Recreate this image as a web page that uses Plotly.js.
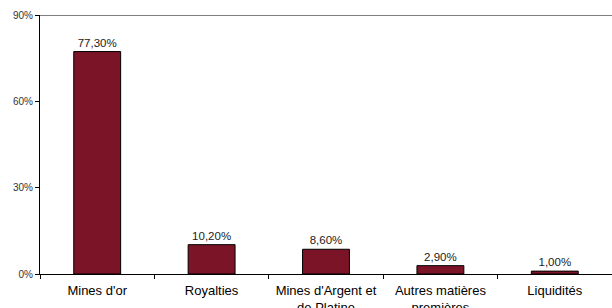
<!DOCTYPE html>
<html>
<head>
<meta charset="utf-8">
<script src="https://cdn.plot.ly/plotly-3.0.1.min.js"></script>
<style>
html,body{margin:0;padding:0;overflow:hidden;background:#fff;}
#chart{width:612px;height:308px;}
</style>
</head>
<body>
<div id="chart"></div>
<script>
const categories = ["Mines d'or", "Royalties", "Mines d'Argent et<br>de Platine", "Autres matières<br>premières", "Liquidités"];
const values = [77.3, 10.2, 8.6, 2.9, 1.0];
const yTickVals = [0, 30, 60, 90];
const yTickText = ["0%", "30%", "60%", "90%"];

const trace = {
  type: 'bar',
  x: categories,
  y: values,
  marker: {color: '#7B1426', line: {color: '#000', width: 1}},
  text: values.map(v => v.toFixed(2).replace('.', ',') + '%'),
  textposition: 'outside',
  textfont: {family: 'Liberation Sans, Arial, sans-serif', size: 11.5, color: '#222'},
  cliponaxis: false,
  hoverinfo: 'none'
};

const layout = {
  width: 612, height: 308,
  margin: {l: 40, r: 0, t: 15, b: 34},
  paper_bgcolor: '#fff', plot_bgcolor: '#fff',
  showlegend: false,
  bargap: 0.59,
  font: {family: 'Liberation Sans, Arial, sans-serif'},
  xaxis: {
    showline: true, linecolor: '#000', linewidth: 1,
    ticks: 'outside', tickson: 'boundaries', ticklen: 4, tickcolor: '#000',
    tickfont: {size: 13, color: '#000'},
    ticklabelstandoff: 4,
    showgrid: false, zeroline: false, fixedrange: true
  },
  yaxis: {
    range: [0, 90],
    tickvals: yTickVals, ticktext: yTickText,
    showline: true, linecolor: '#000', linewidth: 1,
    ticks: 'outside', ticklen: 4, tickcolor: '#000',
    tickfont: {size: 10, color: '#333'},
    showgrid: false, zeroline: false, fixedrange: true
  },
  shapes: [{
    type: 'line', xref: 'paper', yref: 'y', x0: 0, x1: 1, y0: 90, y1: 90,
    line: {color: '#000', width: 1}
  }]
};

Plotly.newPlot('chart', [trace], layout, {displayModeBar: false, staticPlot: true});
</script>
</body>
</html>
